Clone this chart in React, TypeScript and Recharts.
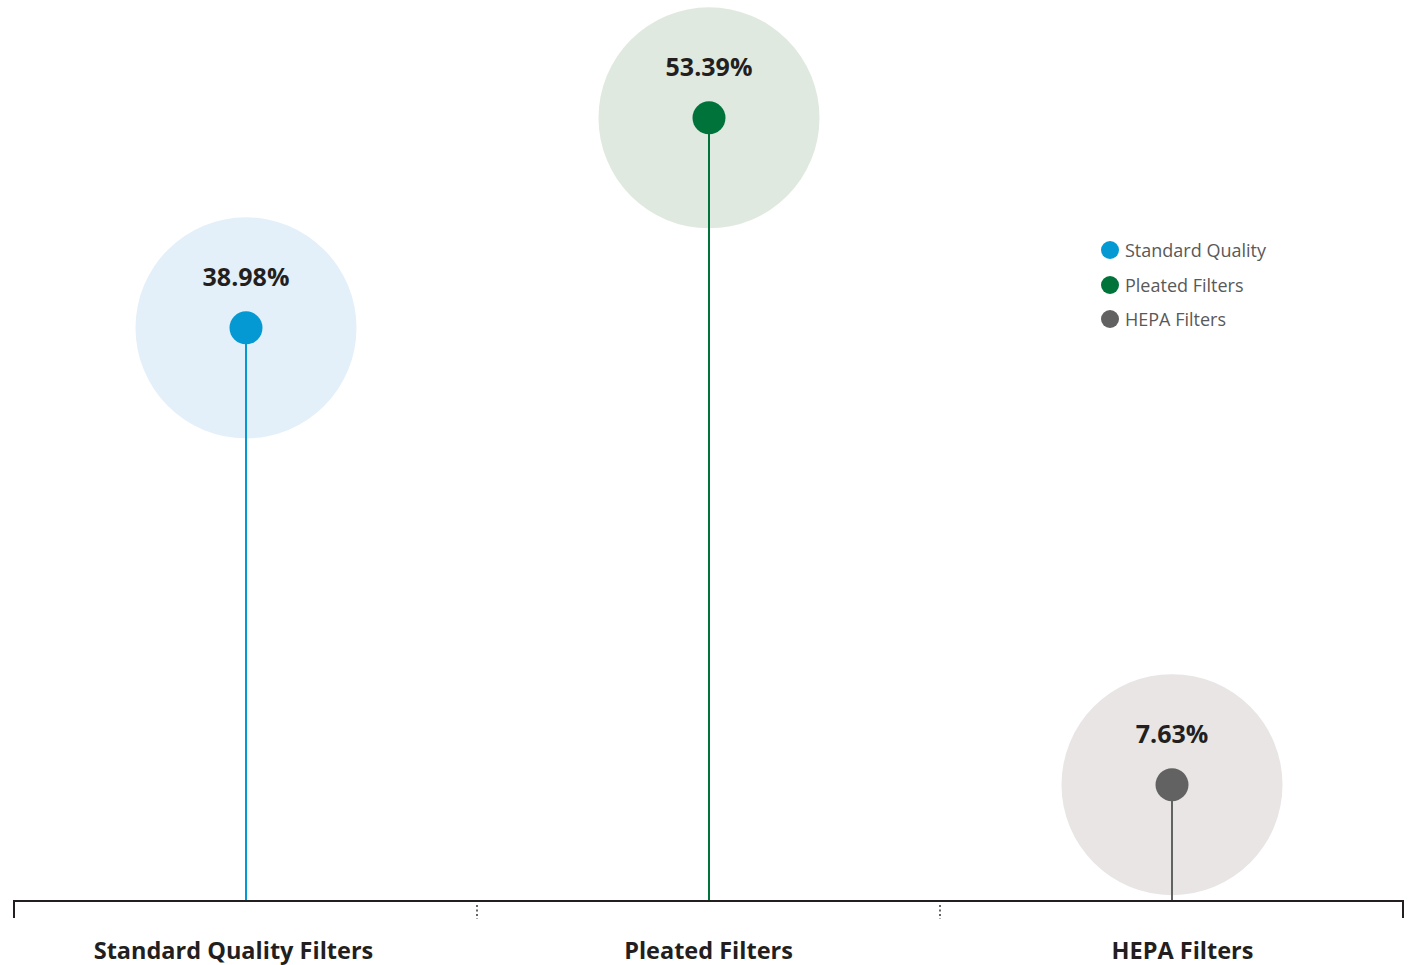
import React from "react";
import { ComposedChart, Bar, XAxis, YAxis } from "recharts";

const categories = ["Standard Quality Filters", "Pleated Filters", "HEPA Filters"];
const seriesNames = ["Standard Quality", "Pleated Filters", "HEPA Filters"];
const shares = [38.98, 53.39, 7.63];

const DOT_COLORS = ["#0599d3", "#00733a", "#636262"];
const HALO_COLORS = ["#e3f0f9", "#e0e9e0", "#e8e5e4"];

const WIDTH = 1416;
const HEIGHT = 965;
const AXIS_H = 64;
const PLOT_BOTTOM = HEIGHT - AXIS_H;
const FONT = "'Open Sans', sans-serif";

const data = categories.map((name, i) => ({
  name,
  series: seriesNames[i],
  value: shares[i],
}));

// lollipop: halo circle, stem down to the axis, dot and value label
const Lollipop = (props: any) => {
  const { x, y, width, index, value } = props;
  const cx = x + width / 2;
  const v = Array.isArray(value) ? value[1] : value;
  return (
    <g>
      <circle cx={cx} cy={y} r={110.5} fill={HALO_COLORS[index]} />
      <line x1={cx} y1={y} x2={cx} y2={PLOT_BOTTOM} stroke={DOT_COLORS[index]} strokeWidth={2} />
      <circle cx={cx} cy={y} r={16.5} fill={DOT_COLORS[index]} />
      <text
        x={cx}
        y={y - 52}
        textAnchor="middle"
        dominantBaseline="central"
        fontFamily={FONT}
        fontWeight={700}
        fontSize={25}
        fill="#231f20"
      >
        {v.toFixed(2)}%
      </text>
    </g>
  );
};

const LABEL_NUDGE = [-12, 0, 11];

// category label plus the boundary marks under the axis line
const CategoryTick = (props: any) => {
  const { x, payload, index } = props;
  const base = PLOT_BOTTOM;
  const band = (WIDTH - 14 - 13) / categories.length;
  const right = x + band / 2;
  const left = x - band / 2;
  return (
    <g>
      {index === 0 && (
        <line x1={left} y1={base - 1} x2={left} y2={base + 17} stroke="#231f20" strokeWidth={2} />
      )}
      {index < categories.length - 1 ? (
        <line
          x1={right}
          y1={base + 4}
          x2={right}
          y2={base + 18}
          stroke="#666"
          strokeWidth={2}
          strokeDasharray="2 2.5"
        />
      ) : (
        <line x1={right} y1={base - 1} x2={right} y2={base + 17} stroke="#231f20" strokeWidth={2} />
      )}
      <text
        x={x + LABEL_NUDGE[index]}
        y={base + 49}
        textAnchor="middle"
        dominantBaseline="central"
        fontFamily={FONT}
        fontWeight={700}
        fontSize={23.5}
        fill="#231f20"
      >
        {payload.value}
      </text>
    </g>
  );
};

const LegendList = () => (
  <div
    style={{
      position: "absolute",
      left: 1101,
      top: 233,
      fontFamily: FONT,
      fontSize: 18,
      color: "#595959",
    }}
  >
    {seriesNames.map((s, i) => (
      <div key={s} style={{ display: "flex", alignItems: "center", height: 34.5 }}>
        <span
          style={{
            width: 18,
            height: 18,
            borderRadius: "50%",
            background: DOT_COLORS[i],
            marginRight: 6,
          }}
        />
        {s}
      </div>
    ))}
  </div>
);

export default function App() {
  return (
    <div style={{ position: "absolute", left: 0, top: 0, width: WIDTH, height: HEIGHT, background: "#fff" }}>
      <ComposedChart
        width={WIDTH}
        height={HEIGHT}
        data={data}
        margin={{ top: 21.5, right: 13, bottom: 0, left: 14 }}
      >
        <XAxis
          dataKey="name"
          height={AXIS_H}
          axisLine={{ stroke: "#231f20", strokeWidth: 2 }}
          tickLine={false}
          tick={<CategoryTick />}
          interval={0}
        />
        <YAxis hide domain={[-0.35, 60]} />
        <Bar dataKey="value" barSize={34} shape={<Lollipop />} isAnimationActive={false} />
      </ComposedChart>
      <LegendList />
    </div>
  );
}
